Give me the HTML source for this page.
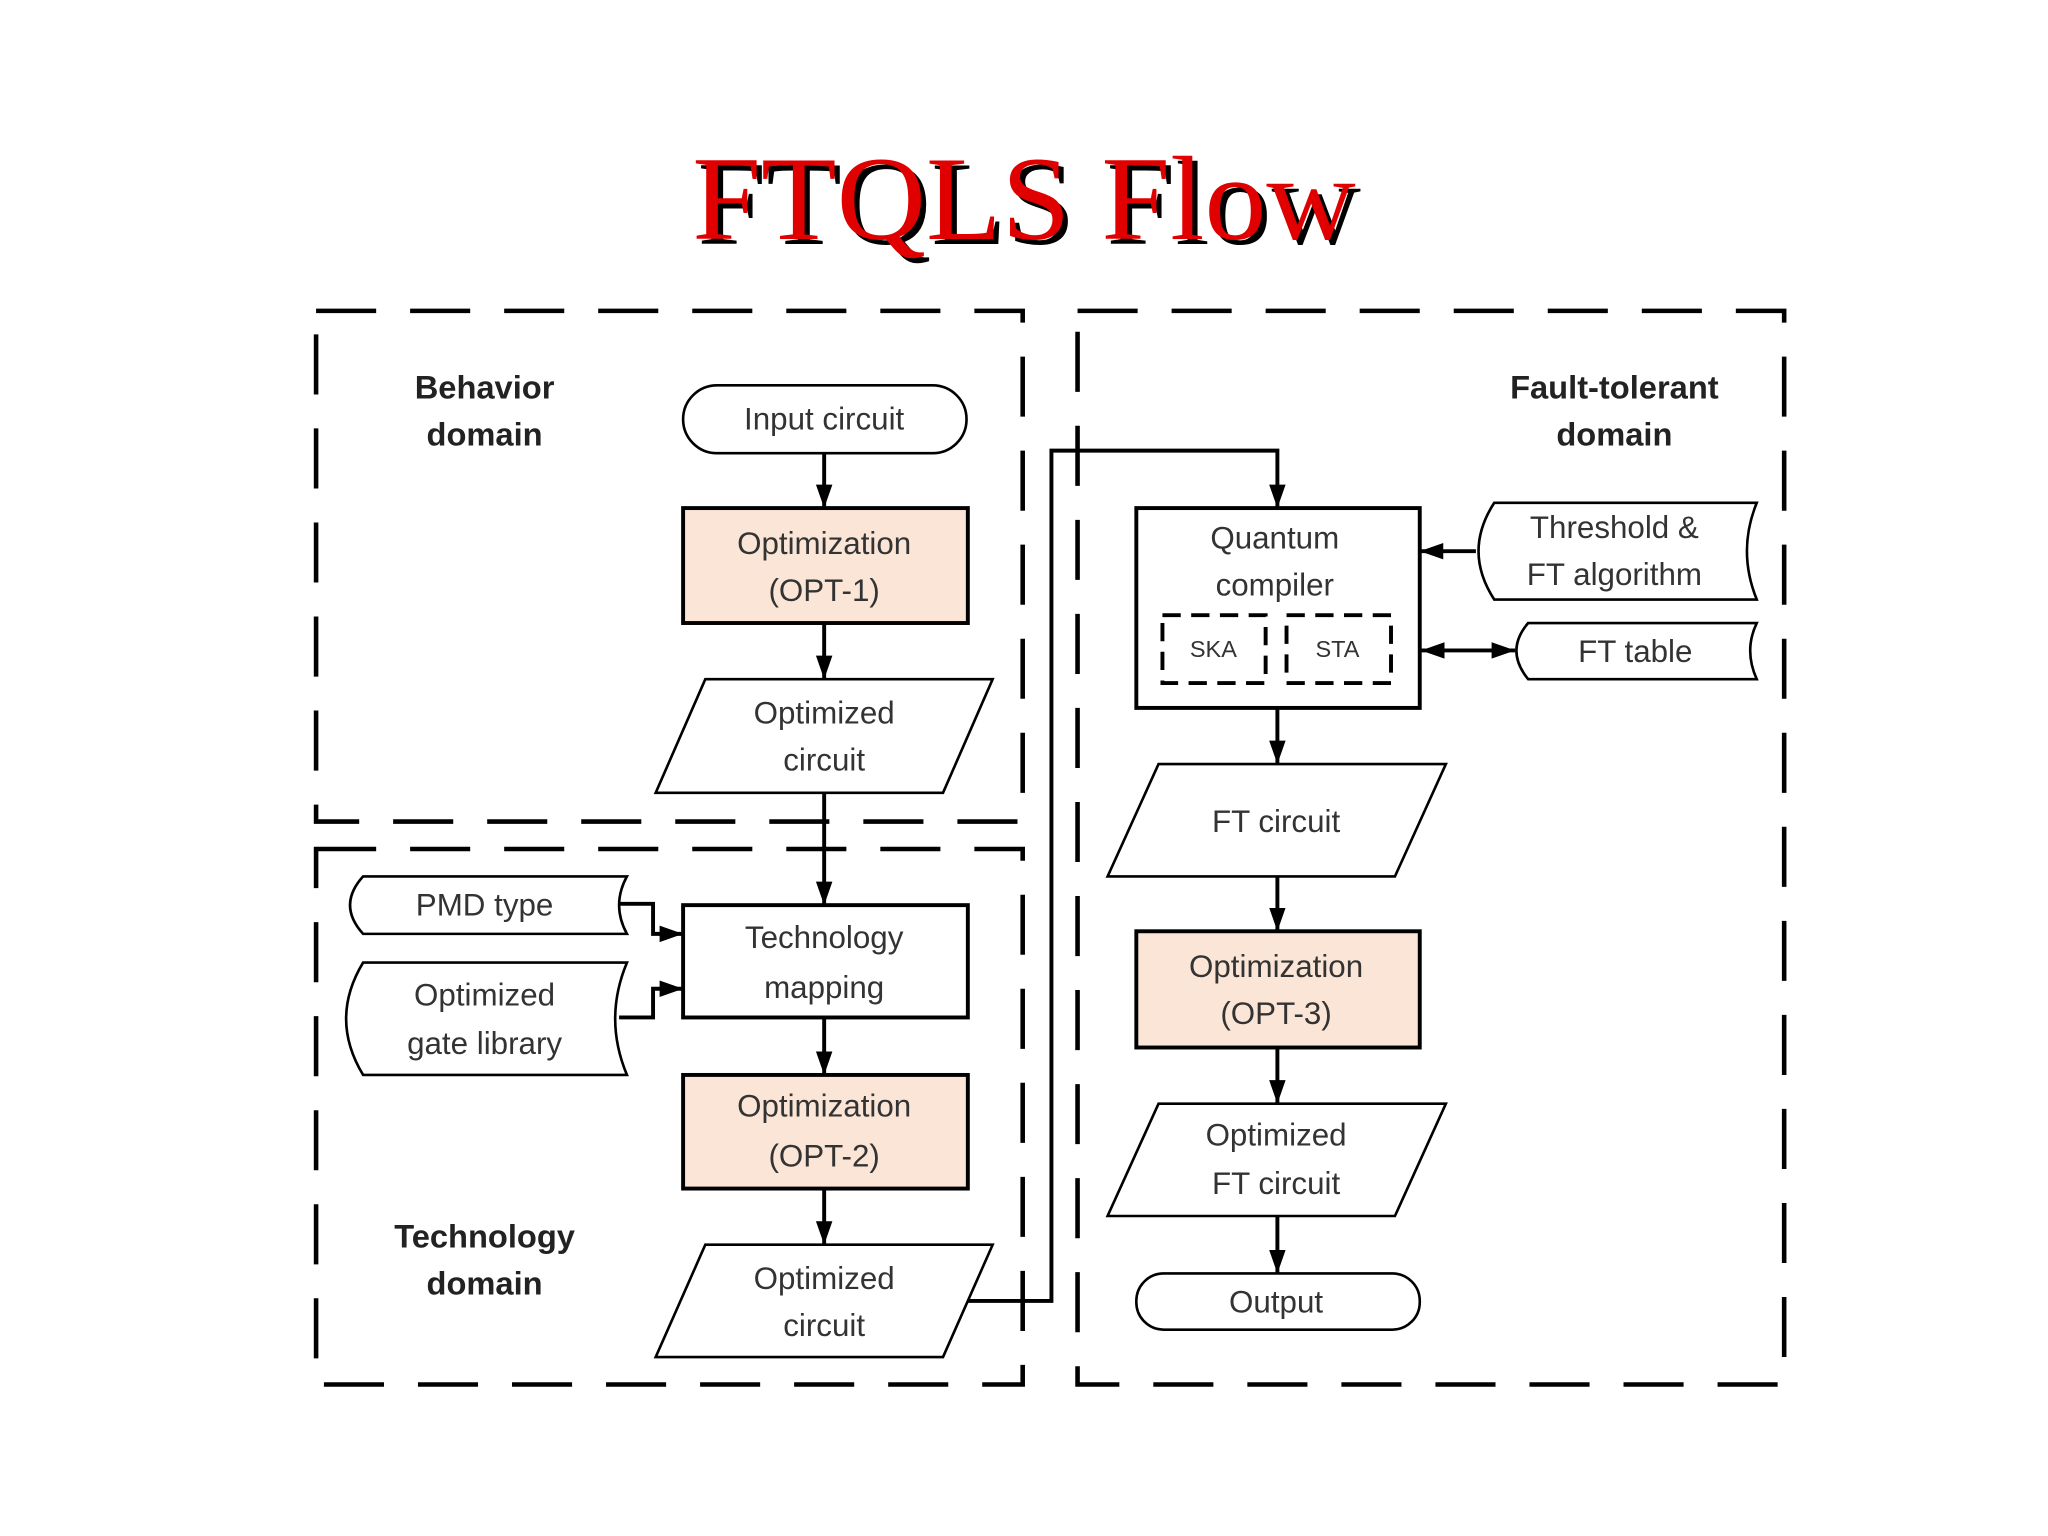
<!DOCTYPE html>
<html><head><meta charset="utf-8"><style>
html,body{margin:0;padding:0;background:#fff;}
svg{display:block;}
text{font-family:"Liberation Sans",sans-serif;}
</style></head><body>
<svg width="2048" height="1536" viewBox="0 0 1568 1176" preserveAspectRatio="none" xmlns="http://www.w3.org/2000/svg">
<defs>
<marker id="a" viewBox="0 0 10 10" refX="10" refY="5" markerWidth="18" markerHeight="18" markerUnits="userSpaceOnUse" orient="auto-start-reverse">
<path d="M0,1.5 L10,5 L0,8.5 z" fill="#000"/></marker>
</defs>
<rect width="1568" height="1176" fill="#fff"/>
<g font-size="92" text-anchor="middle">
<text x="788" y="187" fill="#000" textLength="508" lengthAdjust="spacingAndGlyphs" style="font-family:'Liberation Serif',serif">FTQLS Flow</text>
<text x="784" y="183" fill="#e00000" textLength="508" lengthAdjust="spacingAndGlyphs" style="font-family:'Liberation Serif',serif">FTQLS Flow</text>
</g>
<g fill="none" stroke="#000" stroke-width="3.5" stroke-dasharray="46,26">
<rect x="242" y="238" width="541" height="391"/>
<rect x="242" y="650" width="541" height="410"/>
<rect x="825" y="238" width="541" height="822"/>
</g>
<g font-weight="bold" font-size="25" text-anchor="middle" fill="#222">
<text x="371" y="305">Behavior</text><text x="371" y="341">domain</text>
<text x="1236" y="305">Fault-tolerant</text><text x="1236" y="341">domain</text>
<text x="371" y="955">Technology</text><text x="371" y="991">domain</text>
</g>
<g stroke="#000" stroke-width="3" fill="none">
<line x1="631" y1="347" x2="631" y2="389" marker-end="url(#a)"/>
<line x1="631" y1="477" x2="631" y2="520" marker-end="url(#a)"/>
<line x1="631" y1="607" x2="631" y2="693" marker-end="url(#a)"/>
<line x1="631" y1="779" x2="631" y2="823" marker-end="url(#a)"/>
<line x1="631" y1="910" x2="631" y2="953" marker-end="url(#a)"/>
<polyline points="740,996 805,996 805,345 978,345 978,389" marker-end="url(#a)"/>
<polyline points="474,692 500,692 500,715 523,715" marker-end="url(#a)"/>
<polyline points="474,779 500,779 500,757 523,757" marker-end="url(#a)"/>
<line x1="1130" y1="422" x2="1087" y2="422" marker-end="url(#a)"/>
<line x1="1088" y1="498" x2="1160" y2="498" marker-end="url(#a)" marker-start="url(#a)"/>
<line x1="978" y1="542" x2="978" y2="585" marker-end="url(#a)"/>
<line x1="978" y1="671" x2="978" y2="713" marker-end="url(#a)"/>
<line x1="978" y1="802" x2="978" y2="845" marker-end="url(#a)"/>
<line x1="978" y1="931" x2="978" y2="975" marker-end="url(#a)"/>
</g>
<g stroke="#000" stroke-width="3">
<rect x="523" y="295" width="217" height="52" rx="26" fill="#fff" stroke-width="2"/>
<rect x="523" y="389" width="218" height="88" fill="#fbe5d6"/>
<polygon points="540,520 760,520 722,607 502,607" fill="#fff" stroke-width="2"/>
<rect x="523" y="693" width="218" height="86" fill="#fff"/>
<rect x="523" y="823" width="218" height="87" fill="#fbe5d6"/>
<polygon points="540,953 760,953 722,1039 502,1039" fill="#fff" stroke-width="2"/>
<path d="M278,671 L480,671 Q468,693 480,715 L278,715 Q258,693 278,671 Z" fill="#fff" stroke-width="2"/>
<path d="M278,737 L480,737 Q462,780 480,823 L278,823 Q252,780 278,737 Z" fill="#fff" stroke-width="2"/>
<rect x="870" y="389" width="217" height="153" fill="#fff"/>
<path d="M1144,385 L1345,385 Q1330,422 1345,459 L1144,459 Q1120,422 1144,385 Z" fill="#fff" stroke-width="2"/>
<path d="M1170,477 L1345,477 Q1335,498 1345,520 L1170,520 Q1152,498 1170,477 Z" fill="#fff" stroke-width="2"/>
<polygon points="887,585 1107,585 1068,671 848,671" fill="#fff" stroke-width="2"/>
<rect x="870" y="713" width="217" height="89" fill="#fbe5d6"/>
<polygon points="887,845 1107,845 1068,931 848,931" fill="#fff" stroke-width="2"/>
<rect x="870" y="975" width="217" height="43" rx="21" fill="#fff" stroke-width="2"/>
</g>
<g fill="none" stroke="#000" stroke-width="3" stroke-dasharray="14,8">
<rect x="890" y="471" width="79" height="52"/>
<rect x="985" y="471" width="80" height="52"/>
</g>
<g font-size="24" text-anchor="middle" fill="#333">
<text x="631" y="329">Input circuit</text>
<text x="631" y="424">Optimization</text><text x="631" y="460">(OPT-1)</text>
<text x="631" y="554">Optimized</text><text x="631" y="590">circuit</text>
<text x="631" y="726">Technology</text><text x="631" y="764">mapping</text>
<text x="631" y="855">Optimization</text><text x="631" y="893">(OPT-2)</text>
<text x="631" y="987">Optimized</text><text x="631" y="1023">circuit</text>
<text x="371" y="701">PMD type</text>
<text x="371" y="770">Optimized</text><text x="371" y="807">gate library</text>
<text x="976" y="420">Quantum</text><text x="976" y="456">compiler</text>
<text x="929" y="503" font-size="18">SKA</text><text x="1024" y="503" font-size="18">STA</text>
<text x="1236" y="412">Threshold &amp;</text><text x="1236" y="448">FT algorithm</text>
<text x="1252" y="507">FT table</text>
<text x="977" y="637">FT circuit</text>
<text x="977" y="748">Optimization</text><text x="977" y="784">(OPT-3)</text>
<text x="977" y="877">Optimized</text><text x="977" y="914">FT circuit</text>
<text x="977" y="1005">Output</text>
</g>
</svg>
</body></html>
